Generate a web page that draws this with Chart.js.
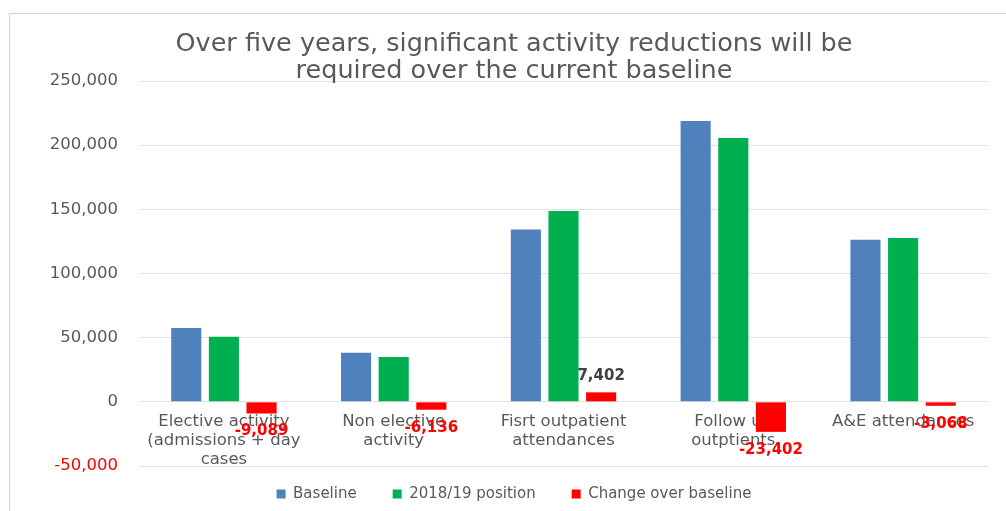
<!DOCTYPE html>
<html>
<head>
<meta charset="utf-8">
<script src="https://cdn.jsdelivr.net/npm/chart.js@4.4.1/dist/chart.umd.min.js"></script>
<style>
  html, body { margin: 0; padding: 0; background: #fff; }
  #wrap { position: relative; width: 1006px; height: 511px; overflow: hidden; }
  #frame { position: absolute; left: 9px; top: 13px; width: 1100px; height: 600px;
           border-left: 1px solid #d4d4d4; border-top: 1px solid #d4d4d4; }
  canvas { position: absolute; left: 0; top: 0; }
</style>
</head>
<body>
<div id="wrap">
  <div id="frame"></div>
  <canvas id="chart" width="1006" height="511"></canvas>
</div>
<script>
const categories = [
    ["Elective activity", "(admissions + day", "cases"],
    ["Non elective", "activity"],
    ["Fisrt outpatient", "attendances"],
    ["Follow up", "outptients"],
    ["A&E attendances"],
];
const baseline = [57600, 38300, 134300, 218800, 126300];
const position1819 = [50700, 35000, 148700, 205600, 127600];
const changeOverBaseline = [-9089, -6136, 7402, -23402, -3068];
const yTicks = [-50000, 0, 50000, 100000, 150000, 200000, 250000];

const FONT = "'DejaVu Sans', sans-serif";
const GREY = "#595959";

// value labels on the change bars, like excel's "outside end"
const changeLabels = {
    id: "changeLabels",
    afterDatasetsDraw(chart) {
        const ctx = chart.ctx;
        const meta = chart.getDatasetMeta(2);
        ctx.save();
        ctx.font = "bold 15px " + FONT;
        ctx.textAlign = "center";
        ctx.textBaseline = "middle";
        meta.data.forEach((bar, i) => {
            const v = changeOverBaseline[i];
            const txt = v.toLocaleString("en-US");
            if (v < 0) {
                ctx.fillStyle = "#ff0000";
                ctx.fillText(txt, bar.x, bar.y + 18);
            } else {
                ctx.fillStyle = "#404040";
                ctx.fillText(txt, bar.x, bar.y - 16);
            }
        });
        ctx.restore();
    },
};

new Chart(document.getElementById("chart"), {
    type: "bar",
    data: {
        labels: categories,
        datasets: [
            { label: "Baseline", data: baseline, backgroundColor: "#4f81bd" },
            { label: "2018/19 position", data: position1819, backgroundColor: "#00b050" },
            { label: "Change over baseline", data: changeOverBaseline, backgroundColor: "#ff0000" },
        ],
    },
    options: {
        responsive: false,
        animation: false,
        layout: { padding: { top: 0, left: 40, right: 18, bottom: -0.5 } },
        datasets: { bar: { categoryPercentage: 0.665, barPercentage: 0.8 } },
        plugins: {
            title: {
                display: true,
                text: [
                    "Over five years, significant activity reductions will be",
                    "required over the current baseline",
                ],
                color: GREY,
                font: { family: FONT, size: 25.5, weight: "normal", lineHeight: 1.06 },
                padding: { top: 31, bottom: -4 },
            },
            legend: {
                position: "bottom",
                // empty title with negative padding: keeps the wide gaps between
                // items without pushing the row down
                title: { display: true, text: " ", font: { size: 1, lineHeight: 1 }, padding: { top: -16.5, bottom: 0 } },
                labels: {
                    color: GREY,
                    font: { family: FONT, size: 15 },
                    boxWidth: 9,
                    boxHeight: 9,
                    padding: 36,
                },
            },
            tooltip: { enabled: false },
        },
        scales: {
            x: {
                position: { y: 0 },
                grid: { display: false, drawTicks: false },
                border: { display: false },
                ticks: {
                    color: GREY,
                    font: { family: FONT, size: 16.5, lineHeight: 1.16 },
                    padding: 10,
                    maxRotation: 0,
                    autoSkip: false,
                },
            },
            y: {
                min: -50000,
                max: 250000,
                afterBuildTicks: (scale) => {
                    scale.ticks = yTicks.map((v) => ({ value: v }));
                },
                afterFit: (scale) => {
                    scale.width = 99;
                },
                grid: { color: "#e2e2e2", drawTicks: false },
                border: { display: false },
                ticks: {
                    color: (c) => (c.tick.value < 0 ? "#ff0000" : GREY),
                    font: { family: FONT, size: 16.5 },
                    padding: 21,
                },
            },
        },
    },
    plugins: [changeLabels],
});
</script>
</body>
</html>
